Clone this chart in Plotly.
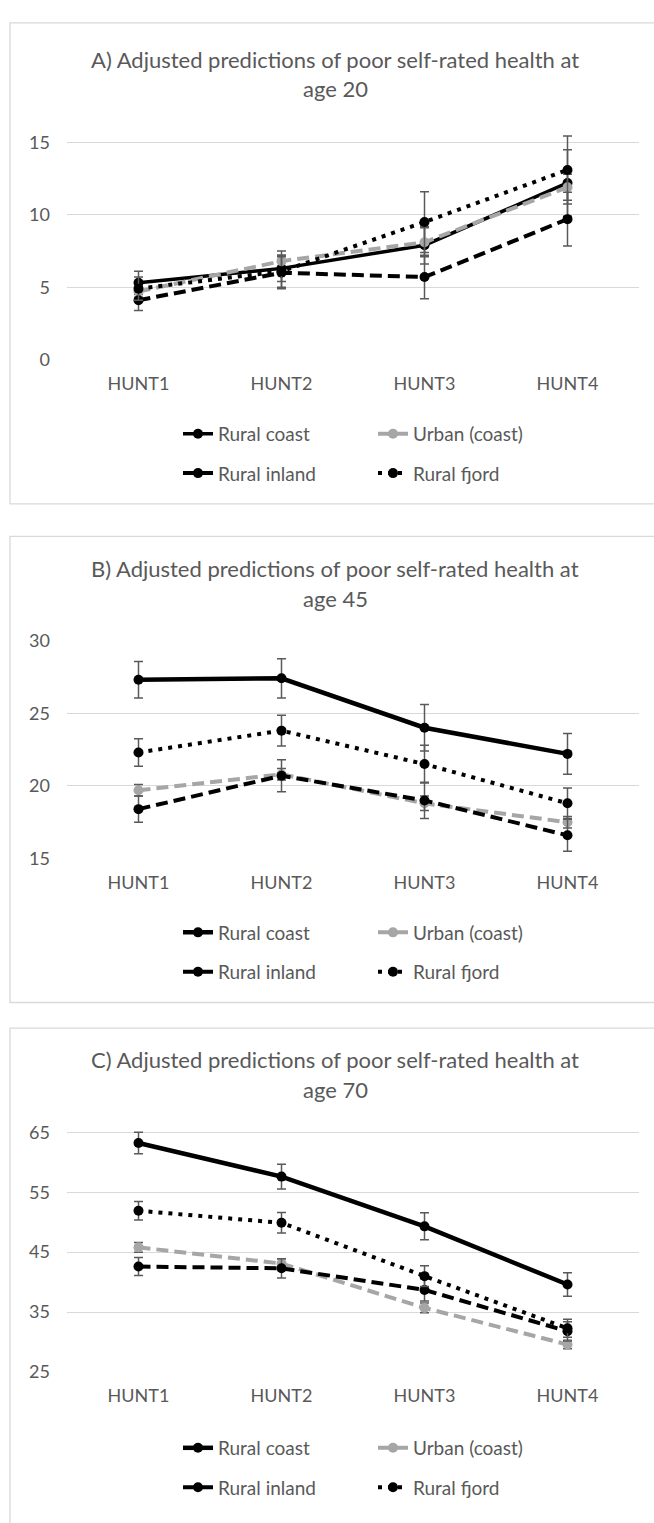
import plotly.graph_objects as go

W, H = 654, 1523

waves = ["HUNT1", "HUNT2", "HUNT3", "HUNT4"]
groups = ["Rural coast", "Urban (coast)", "Rural inland", "Rural fjord"]

# Panel A: age 20 (percent, with CI half-widths)
a_coast = [5.3, 6.3, 7.9, 12.2]
a_coast_err = [0.8, 0.9, 1.3, 2.3]
a_urban = [4.7, 6.8, 8.1, 11.9]
a_urban_err = [0.4, 0.7, 1.0, 0.9]
a_inland = [4.1, 6.0, 5.7, 9.7]
a_inland_err = [0.7, 1.1, 1.5, 1.85]
a_fjord = [4.9, 6.1, 9.5, 13.1]
a_fjord_err = [0.8, 1.1, 2.1, 2.35]

# Panel B: age 45
b_coast = [27.3, 27.4, 24.0, 22.2]
b_coast_err = [1.25, 1.35, 1.6, 1.4]
b_urban = [19.7, 20.8, 18.8, 17.5]
b_urban_err = [0.4, 0.4, 0.5, 0.4]
b_inland = [18.4, 20.7, 19.0, 16.6]
b_inland_err = [0.9, 1.1, 1.25, 1.1]
b_fjord = [22.3, 23.8, 21.5, 18.8]
b_fjord_err = [0.95, 1.05, 1.3, 1.05]

# Panel C: age 70
c_coast = [63.2, 57.6, 49.3, 39.6]
c_coast_err = [1.8, 2.05, 2.25, 1.95]
c_urban = [45.8, 43.1, 35.7, 29.6]
c_urban_err = [0.8, 0.8, 0.8, 0.7]
c_inland = [42.6, 42.3, 38.7, 31.8]
c_inland_err = [1.5, 1.6, 1.85, 1.6]
c_fjord = [51.9, 49.9, 41.0, 32.3]
c_fjord_err = [1.55, 1.7, 1.75, 1.5]

titles = [
    ("A) Adjusted predictions of poor self-rated health at", "age 20"),
    ("B) Adjusted predictions of poor self-rated health at", "age 45"),
    ("C) Adjusted predictions of poor self-rated health at", "age 70"),
]
yticks = [[0, 5, 10, 15], [15, 20, 25, 30], [25, 35, 45, 55, 65]]
yranges = [[0, 15.6], [15, 30], [25, 65.6]]

FONT = "Lato"
TXT = "#595959"
GRID = "#d9d9d9"
BLACK = "#000000"
GREY = "#a6a6a6"


def px_y(p):
    return 1 - p / H


def px_x(p):
    return p / W


# pixel geometry of each panel
plot_px = [(123.5, 352.7), (637.7, 859.0), (1133.0, 1380.0)]
title_px = [(48, 78), (565, 595), (1063, 1093)]
legend_px = [(428, 468), (934, 974), (1457, 1497)]
box_px = [(11, 499), (532, 1005), (1031, 1540)]

panels = [
    [(a_coast, a_coast_err), (a_urban, a_urban_err), (a_inland, a_inland_err), (a_fjord, a_fjord_err)],
    [(b_coast, b_coast_err), (b_urban, b_urban_err), (b_inland, b_inland_err), (b_fjord, b_fjord_err)],
    [(c_coast, c_coast_err), (c_urban, c_urban_err), (c_inland, c_inland_err), (c_fjord, c_fjord_err)],
]

coast_w = [3.5, 4.5, 4.5]

fig = go.Figure()

for i, series in enumerate(panels):
    xa = "x" if i == 0 else f"x{i + 1}"
    ya = "y" if i == 0 else f"y{i + 1}"
    styles = [
        dict(color=BLACK, width=coast_w[i], dash="solid"),
        dict(color=GREY, width=4, dash="12px,6px"),
        dict(color=BLACK, width=4, dash="12px,6px"),
        dict(color=BLACK, width=4, dash="4px,6px"),
    ]
    for k, (vals, errs) in enumerate(series):
        leg_row = 2 * i + (0 if k < 2 else 1)
        leg = "legend" if leg_row == 0 else f"legend{leg_row + 1}"
        fig.add_trace(go.Scatter(
            x=waves, y=vals, name=groups[k], mode="lines+markers",
            line=styles[k],
            marker=dict(size=10, color=styles[k]["color"]),
            error_y=dict(type="data", array=errs, visible=True,
                         color=TXT, thickness=1.5, width=4.5),
            xaxis=xa, yaxis=ya, legend=leg, showlegend=True,
        ))

layout = dict(
    width=W, height=H,
    margin=dict(l=0, r=0, t=0, b=0),
    paper_bgcolor="white", plot_bgcolor="white",
    font=dict(family=FONT, color=TXT, size=18),
    shapes=[], annotations=[],
)

for i in range(3):
    sfx = "" if i == 0 else str(i + 1)
    top, bot = plot_px[i]
    layout[f"xaxis{sfx}"] = dict(
        domain=[px_x(67), px_x(639)], anchor=f"y{sfx}",
        type="category", range=[-0.5, 3.5],
        showgrid=False, showline=False, zeroline=False, ticks="",
        tickfont=dict(family=FONT, size=18, color=TXT),
        ticklabelstandoff=11, fixedrange=True,
    )
    layout[f"yaxis{sfx}"] = dict(
        domain=[px_y(bot), px_y(top)], anchor=f"x{sfx}",
        range=yranges[i], tickvals=yticks[i],
        showgrid=True, gridcolor=GRID, gridwidth=1.3,
        showline=False, zeroline=False, ticks="",
        tickfont=dict(family=FONT, size=18, color=TXT),
        ticklabelstandoff=16, fixedrange=True,
    )
    # chart frame
    b0, b1 = box_px[i]
    layout["shapes"].append(dict(
        type="rect", xref="paper", yref="paper",
        x0=px_x(10), x1=px_x(660), y0=px_y(b1), y1=px_y(b0),
        line=dict(color=GRID, width=1.3), fillcolor="rgba(0,0,0,0)", layer="below",
    ))
    # two-line chart title
    for line_txt, ypx in zip(titles[i], title_px[i]):
        layout["annotations"].append(dict(
            text=line_txt, xref="paper", yref="paper",
            x=px_x(335), y=px_y(ypx), xanchor="center", yanchor="middle",
            showarrow=False, font=dict(family=FONT, size=22, color=TXT),
        ))
    # legend rows
    for r in range(2):
        idx = 2 * i + r
        name = "legend" if idx == 0 else f"legend{idx + 1}"
        layout[name] = dict(
            orientation="h", x=px_x(178), y=px_y(legend_px[i][r]),
            xanchor="left", yanchor="middle",
            entrywidth=150, entrywidthmode="pixels",
            font=dict(family=FONT, size=19, color=TXT),
            bgcolor="rgba(0,0,0,0)", borderwidth=0,
            traceorder="normal", itemclick=False, itemdoubleclick=False,
        )

fig.update_layout(**layout)
fig.write_html("out.html")
